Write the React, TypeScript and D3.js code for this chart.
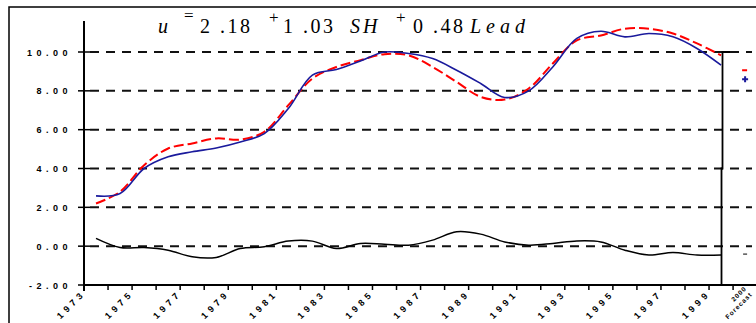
import React, { useEffect, useRef } from 'react'
import * as d3 from 'd3'

// years on the category axis (last one is the forecast slot)
const years = ['1973', '1974', '1975', '1976', '1977', '1978', '1979', '1980', '1981', '1982',
    '1983', '1984', '1985', '1986', '1987', '1988', '1989', '1990', '1991', '1992',
    '1993', '1994', '1995', '1996', '1997', '1998', '1999']
const forecastLabel = ['2000', 'Forecast']

// actual (red dashed), fitted (blue), third series (black)
const actual = [2.2, 2.8, 4.17, 5.03, 5.29, 5.55, 5.49, 5.89, 7.26, 8.63, 9.23, 9.58, 9.89, 9.83,
    9.23, 8.46, 7.69, 7.55, 8.12, 9.41, 10.6, 10.85, 11.2, 11.2, 10.95, 10.44, 9.83]
const fitted = [2.59, 2.71, 4.0, 4.6, 4.86, 5.06, 5.37, 5.8, 7.09, 8.81, 9.1, 9.54, 10.0, 9.92,
    9.66, 9.06, 8.38, 7.66, 8.0, 9.23, 10.7, 11.07, 10.78, 10.95, 10.78, 10.18, 9.32]
const lead = [0.4, -0.07, -0.07, -0.21, -0.55, -0.58, -0.12, -0.03, 0.26, 0.26, -0.12, 0.14, 0.1, 0.05,
    0.31, 0.74, 0.62, 0.22, 0.05, 0.14, 0.27, 0.22, -0.21, -0.46, -0.33, -0.46, -0.46]
const forecast = { actual: 9.06, fitted: 8.6, lead: -0.41 }

const yTicks = [-2, 0, 2, 4, 6, 8, 10]

export default function App() {
    const ref = useRef<SVGSVGElement>(null)
    const width = 756
    const height = 323

    useEffect(() => {
        const svg = d3.select(ref.current)
        svg.selectAll('*').remove()

        const cats = [...years, 'F']
        const x = d3.scaleBand<string>()
            .domain(cats)
            .range([84, 84 + cats.length * 24.04])
        const cx = (d: string) => (x(d) as number) + x.bandwidth() / 2

        const y = d3.scaleLinear()
            .domain([-2, 10])
            .range([285, 52])

        const font = "'Liberation Sans', Arial, sans-serif"

        // frame
        svg.append('path')
            .attr('d', `M9,${height}V7H${width}`)
            .attr('fill', 'none')
            .attr('stroke', '#000')
            .attr('stroke-width', 1.5)

        // dashed gridlines
        svg.append('g')
            .selectAll('line')
            .data(yTicks.filter(t => t > -2))
            .join('line')
            .attr('x1', 90)
            .attr('x2', 752)
            .attr('y1', d => y(d))
            .attr('y2', d => y(d))
            .attr('stroke', '#111')
            .attr('stroke-width', 2)
            .attr('stroke-dasharray', '9,7')

        // y axis
        const yAxis = svg.append('g')
        yAxis.append('line')
            .attr('x1', 84).attr('x2', 84)
            .attr('y1', 21).attr('y2', 291)
            .attr('stroke', '#000').attr('stroke-width', 2)
        yAxis.selectAll('line.tk')
            .data(yTicks)
            .join('line')
            .attr('class', 'tk')
            .attr('x1', 78).attr('x2', 90)
            .attr('y1', d => y(d)).attr('y2', d => y(d))
            .attr('stroke', '#000').attr('stroke-width', 1.5)
        yAxis.selectAll('text')
            .data(yTicks)
            .join('text')
            .attr('x', 72)
            .attr('y', d => y(d) + 3.5)
            .attr('text-anchor', 'end')
            .attr('font-family', font)
            .attr('font-weight', 'bold')
            .attr('font-size', 9)
            .attr('letter-spacing', 4.5)
            .text(d => d.toFixed(2))

        // x axis
        const xAxis = svg.append('g')
        xAxis.append('line')
            .attr('x1', 84).attr('x2', width)
            .attr('y1', 285).attr('y2', 285)
            .attr('stroke', '#000').attr('stroke-width', 2)
        xAxis.selectAll('line.tk')
            .data(cats)
            .join('line')
            .attr('class', 'tk')
            .attr('x1', d => x(d) as number).attr('x2', d => x(d) as number)
            .attr('y1', 285).attr('y2', 290)
            .attr('stroke', '#000').attr('stroke-width', 1.5)
        xAxis.selectAll('text.yr')
            .data(years.filter((_, i) => i % 2 === 0))
            .join('text')
            .attr('class', 'yr')
            .attr('text-anchor', 'end')
            .attr('font-family', font)
            .attr('font-weight', 'bold')
            .attr('font-size', 9)
            .attr('letter-spacing', 4)
            .attr('transform', d => `translate(${(x(d) as number) + 2},${294}) rotate(-45)`)
            .text(d => d)
        const fl = xAxis.append('text')
            .attr('text-anchor', 'end')
            .attr('font-family', font)
            .attr('font-weight', 'bold')
            .attr('font-size', 6.5)
            .attr('letter-spacing', 1)
            .attr('transform', `translate(${cx('F') + 2},${289}) rotate(-45)`)
        fl.append('tspan').attr('x', 0).attr('dy', 0).text(forecastLabel[0])
        fl.append('tspan').attr('x', 0).attr('dy', 8).text(forecastLabel[1])

        // right separator line
        svg.append('path')
            .attr('d', `M730,${y(10)}H722.5V${y(4)}H721.5V285`)
            .attr('fill', 'none')
            .attr('stroke', '#000')
            .attr('stroke-width', 1.8)

        // series
        const line = d3.line<number>()
            .x((_, i) => cx(years[i]))
            .y(d => y(d))
            .curve(d3.curveCatmullRom.alpha(0.5))

        svg.append('path')
            .datum(lead)
            .attr('d', line)
            .attr('fill', 'none')
            .attr('stroke', '#000')
            .attr('stroke-width', 1.5)

        svg.append('path')
            .datum(actual)
            .attr('d', line)
            .attr('fill', 'none')
            .attr('stroke', '#ff0000')
            .attr('stroke-width', 2)
            .attr('stroke-dasharray', '10,4')

        svg.append('path')
            .datum(fitted)
            .attr('d', line)
            .attr('fill', 'none')
            .attr('stroke', '#1a1a9c')
            .attr('stroke-width', 1.6)

        // forecast markers
        const fx = cx('F')
        svg.append('line')
            .attr('x1', fx - 3).attr('x2', fx + 2)
            .attr('y1', y(forecast.actual)).attr('y2', y(forecast.actual))
            .attr('stroke', '#ff0000').attr('stroke-width', 2)
        svg.append('path')
            .attr('d', `M${fx - 3},${y(forecast.fitted)}H${fx + 3}M${fx},${y(forecast.fitted) - 3}V${y(forecast.fitted) + 3}`)
            .attr('stroke', '#1a1a9c').attr('stroke-width', 2)
        svg.append('line')
            .attr('x1', fx - 2).attr('x2', fx + 2)
            .attr('y1', y(forecast.lead)).attr('y2', y(forecast.lead))
            .attr('stroke', '#555').attr('stroke-width', 1.5)

        // equation title
        const serif = "'Liberation Serif', 'Times New Roman', serif"
        const tokens: [string, number, number, boolean, number, number][] = [
            ['u', 158, 33, true, 20, 0],
            ['=', 184, 21, false, 17, 0],
            ['2 .18', 200, 33, false, 20, 2.5],
            ['+', 269, 23, false, 17, 0],
            ['1 .03', 283, 33, false, 20, 2.5],
            ['SH', 350, 33, true, 20, 3],
            ['+', 396, 23, false, 17, 0],
            ['0 .48', 413, 33, false, 20, 2.5],
            ['Lead', 470, 33, true, 20, 5],
        ]
        svg.append('g')
            .selectAll('text')
            .data(tokens)
            .join('text')
            .attr('x', d => d[1])
            .attr('y', d => d[2])
            .attr('font-family', serif)
            .attr('font-style', d => d[3] ? 'italic' : 'normal')
            .attr('font-size', d => d[4])
            .attr('letter-spacing', d => d[5])
            .text(d => d[0])
    })

    return (
        <svg ref={ref} width={width} height={height}
            style={{ position: 'absolute', left: 0, top: 0, background: '#fff' }} />
    )
}
